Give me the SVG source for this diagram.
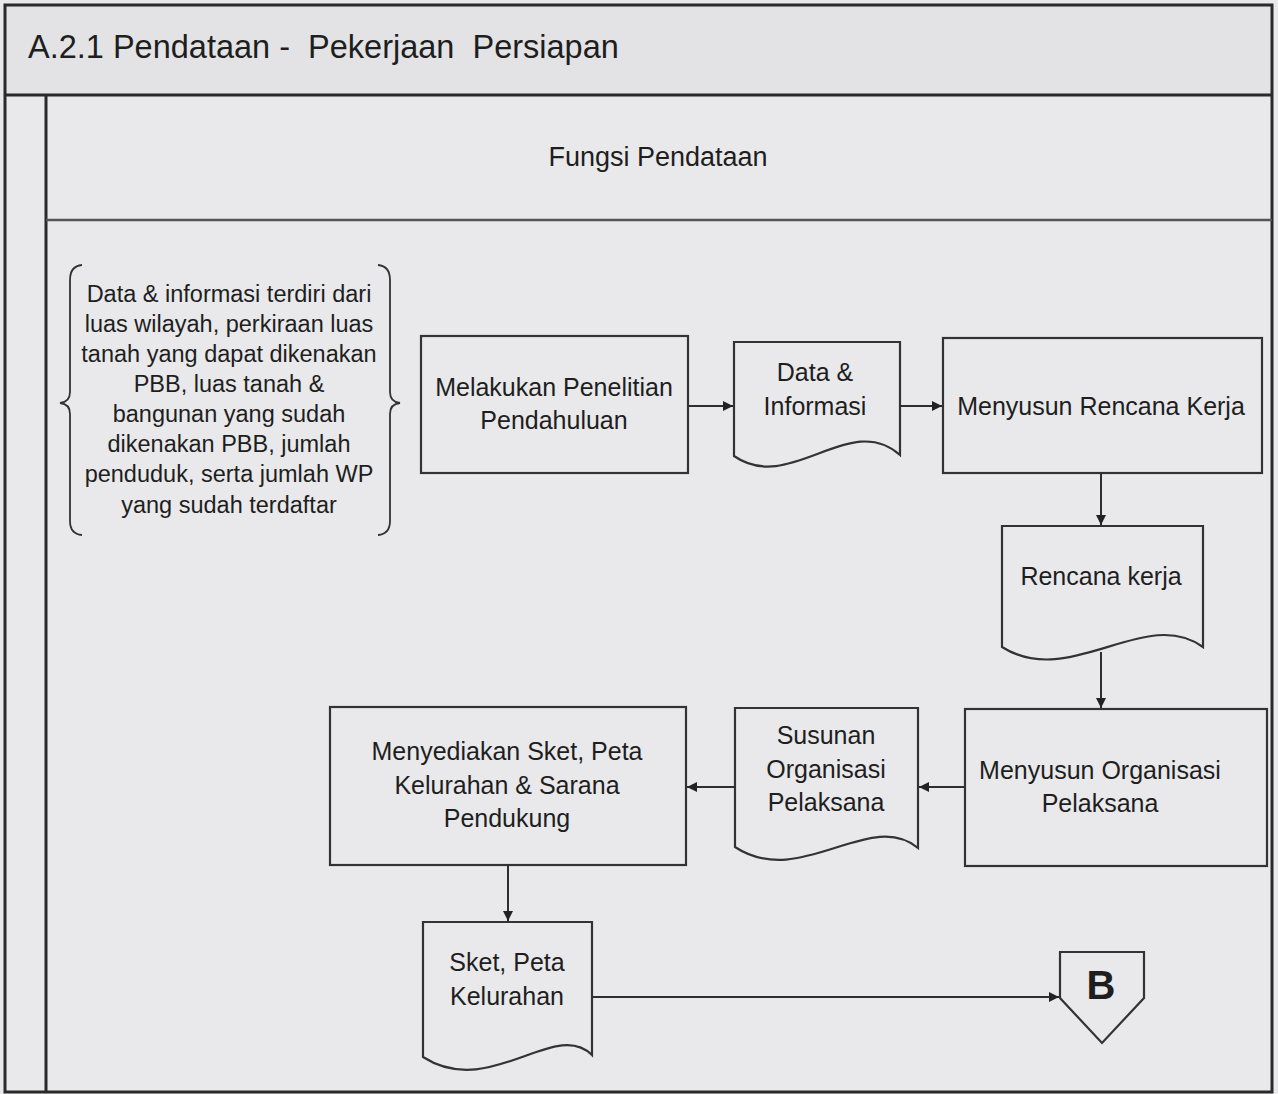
<svg xmlns="http://www.w3.org/2000/svg" width="1278" height="1094" viewBox="0 0 1278 1094">
  <style>
    .frame { fill: none; stroke: #2a2a2a; stroke-width: 3; }
    .shape { fill: none; stroke: #333333; stroke-width: 2.2; }
    .brace { fill: none; stroke: #333333; stroke-width: 1.8; }
    .edge { fill: none; stroke: #2e2e2e; stroke-width: 2; }
    text { font-family: "Liberation Sans", Arial, sans-serif; fill: #1e1e1e; }
    .title { font-size: 32.5px; white-space: pre; }
    .lane { font-size: 27px; text-anchor: middle; }
    .label { font-size: 25px; text-anchor: middle; }
    .note { font-size: 23.5px; text-anchor: middle; }
    .conn { font-size: 40px; font-weight: bold; text-anchor: middle; }
  </style>
  <defs>
    <marker id="arrow" viewBox="0 0 10 10" refX="10" refY="5" markerWidth="10" markerHeight="10" markerUnits="userSpaceOnUse" orient="auto">
      <path d="M0,0 L10,5 L0,10 Z" fill="#222222"/>
    </marker>
  </defs>

  <!-- paper -->
  <rect x="0" y="0" width="1278" height="1094" fill="#e9e9eb"/>
  <rect x="5" y="5" width="1267" height="90" fill="#e3e3e5"/>

  <!-- swimlane frame -->
  <g id="swimlane">
    <rect class="frame" x="5" y="5" width="1267" height="1087"/>
    <line class="frame" x1="5" y1="95" x2="1272" y2="95"/>
    <line class="frame" x1="46" y1="95" x2="46" y2="1092"/>
    <line x1="46" y1="220" x2="1272" y2="220" stroke="#555555" stroke-width="2.5"/>
    <text class="title" x="28" y="58" xml:space="preserve">A.2.1 Pendataan -  Pekerjaan  Persiapan</text>
    <text class="lane" x="658" y="166">Fungsi Pendataan</text>
  </g>

  <!-- annotation in braces -->
  <g id="note-data">
    <path class="brace" d="M82,265 Q70,266 70,280 L70,392 Q70,402 60,403 Q70,404 70,414 L70,521 Q70,534 82,535"/>
    <path class="brace" d="M378,265 Q390,266 390,280 L390,392 Q390,402 400,403 Q390,404 390,414 L390,521 Q390,534 378,535"/>
    <text class="note" x="229" y="302">Data &amp; informasi terdiri dari</text>
    <text class="note" x="229" y="332">luas wilayah, perkiraan luas</text>
    <text class="note" x="229" y="362">tanah yang dapat dikenakan</text>
    <text class="note" x="229" y="392">PBB, luas tanah &amp;</text>
    <text class="note" x="229" y="422">bangunan yang sudah</text>
    <text class="note" x="229" y="452">dikenakan PBB, jumlah</text>
    <text class="note" x="229" y="482">penduduk, serta jumlah WP</text>
    <text class="note" x="229" y="513">yang sudah terdaftar</text>
  </g>

  <g id="p-penelitian">
    <rect class="shape" x="421" y="336" width="267" height="137"/>
    <text class="label" x="554" y="396">Melakukan Penelitian</text>
    <text class="label" x="554" y="429">Pendahuluan</text>
  </g>

  <g id="d-data-informasi">
    <path class="shape" d="M734,342 H900 V455 C850,410 790,495 734,456 Z"/>
    <text class="label" x="815" y="381">Data &amp;</text>
    <text class="label" x="815" y="415">Informasi</text>
  </g>

  <g id="p-rencana-kerja">
    <rect class="shape" x="943" y="338" width="319" height="135"/>
    <text class="label" x="1101" y="415">Menyusun Rencana Kerja</text>
  </g>

  <g id="d-rencana-kerja">
    <path class="shape" d="M1002,526 H1203 V647 C1145,605 1070,690 1002,647 Z"/>
    <text class="label" x="1101" y="585">Rencana kerja</text>
  </g>

  <g id="p-organisasi">
    <rect class="shape" x="965" y="709" width="302" height="157"/>
    <text class="label" x="1100" y="779">Menyusun Organisasi</text>
    <text class="label" x="1100" y="812">Pelaksana</text>
  </g>

  <g id="d-susunan-organisasi">
    <path class="shape" d="M735,708 H918 V848 C870,808 800,890 735,847 Z"/>
    <text class="label" x="826" y="744">Susunan</text>
    <text class="label" x="826" y="778">Organisasi</text>
    <text class="label" x="826" y="811">Pelaksana</text>
  </g>

  <g id="p-sket-peta">
    <rect class="shape" x="330" y="707" width="356" height="158"/>
    <text class="label" x="507" y="760">Menyediakan Sket, Peta</text>
    <text class="label" x="507" y="794">Kelurahan &amp; Sarana</text>
    <text class="label" x="507" y="827">Pendukung</text>
  </g>

  <g id="d-sket-peta">
    <path class="shape" d="M423,922 H592 V1055 C555,1018 490,1100 423,1057 Z"/>
    <text class="label" x="507" y="971">Sket, Peta</text>
    <text class="label" x="507" y="1005">Kelurahan</text>
  </g>

  <g id="offpage-b">
    <path class="shape" d="M1060,952 H1144 V998 L1102,1043 L1060,998 Z"/>
    <text class="conn" x="1101" y="999">B</text>
  </g>

  <!-- connectors -->
  <g id="connectors">
    <line class="edge" x1="688" y1="406" x2="733" y2="406" marker-end="url(#arrow)"/>
    <line class="edge" x1="900" y1="406" x2="942" y2="406" marker-end="url(#arrow)"/>
    <line class="edge" x1="1101" y1="473" x2="1101" y2="525" marker-end="url(#arrow)"/>
    <line class="edge" x1="1101" y1="652" x2="1101" y2="708" marker-end="url(#arrow)"/>
    <line class="edge" x1="965" y1="787" x2="919" y2="787" marker-end="url(#arrow)"/>
    <line class="edge" x1="735" y1="787" x2="687" y2="787" marker-end="url(#arrow)"/>
    <line class="edge" x1="508" y1="865" x2="508" y2="921" marker-end="url(#arrow)"/>
    <line class="edge" x1="592" y1="997" x2="1059" y2="997" marker-end="url(#arrow)"/>
  </g>
</svg>
